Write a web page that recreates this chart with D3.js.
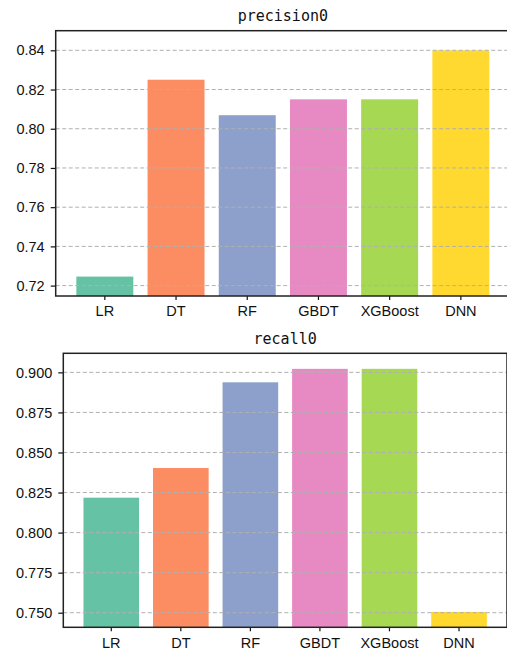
<!DOCTYPE html>
<html>
<head>
<meta charset="utf-8">
<script src="https://cdn.jsdelivr.net/npm/d3@7"></script>
<style>
  body { margin: 0; background: #fff; }
  svg { display: block; }
  .tick text { font-family: 'Liberation Sans', Arial, sans-serif; font-size: 14.5px; fill: #111; }
  .title { font-family: 'DejaVu Sans Mono', monospace; font-size: 15px; fill: #111; }
</style>
</head>
<body>
<div id="chart"></div>
<script>
var models = ['LR', 'DT', 'RF', 'GBDT', 'XGBoost', 'DNN']
var colors = ['#66c2a5', '#fc8d62', '#8da0cb', '#e78ac3', '#a6d854', '#ffd92f']
var precision0 = [0.7246, 0.825, 0.8069, 0.815, 0.815, 0.84]
var recall0 = [0.8218, 0.8403, 0.8938, 0.9022, 0.9022, 0.7505]
var precisionTicks = [0.72, 0.74, 0.76, 0.78, 0.80, 0.82, 0.84]
var recallTicks = [0.750, 0.775, 0.800, 0.825, 0.850, 0.875, 0.900]

var width = 507
var height = 657

var svg = d3.select('#chart')
  .append('svg')
  .attr('width', width)
  .attr('height', height)

var panels = [
  { title: 'precision0', values: precision0, ticks: precisionTicks, fmt: '.2f',
    left: 55.7, right: 510, top: 30.7, bottom: 296, domain: [0.7147, 0.85], titleY: 21 },
  { title: 'recall0', values: recall0, ticks: recallTicks, fmt: '.3f',
    left: 63.3, right: 507, top: 353.3, bottom: 627.3, domain: [0.7409, 0.9119], titleY: 344 }
]

panels.forEach(function (p) {
  var x = d3.scaleBand()
    .domain(models)
    .range([p.left, p.right])
    .paddingInner(0.2)
    .paddingOuter(0.29)

  var y = d3.scaleLinear()
    .domain(p.domain)
    .range([p.bottom, p.top])

  var g = svg.append('g')

  // bars
  g.selectAll('.bar')
    .data(p.values)
    .enter()
    .append('rect')
    .attr('x', (d, i) => x(models[i]))
    .attr('y', d => y(d))
    .attr('width', x.bandwidth())
    .attr('height', d => p.bottom - y(d))
    .attr('fill', (d, i) => colors[i])

  // grid over bars
  g.append('g')
    .selectAll('line')
    .data(p.ticks)
    .enter()
    .append('line')
    .attr('x1', p.left)
    .attr('x2', p.right)
    .attr('y1', d => y(d))
    .attr('y2', d => y(d))
    .attr('stroke', '#b0b0b0')
    .attr('stroke-width', 1)
    .attr('stroke-dasharray', '4,2.5')

  // axes
  var yAxis = g.append('g')
    .attr('transform', 'translate(' + p.left + ',0)')
    .call(d3.axisLeft(y).tickValues(p.ticks).tickFormat(d3.format(p.fmt)).tickSize(5).tickPadding(6))
  yAxis.select('.domain').remove()

  var xAxis = g.append('g')
    .attr('transform', 'translate(0,' + p.bottom + ')')
    .call(d3.axisBottom(x).tickSize(4).tickPadding(6))
  xAxis.select('.domain').remove()

  g.selectAll('.tick line').attr('stroke', '#111').attr('stroke-width', 1.2)

  // frame
  g.append('rect')
    .attr('x', p.left)
    .attr('y', p.top)
    .attr('width', p.right - p.left)
    .attr('height', p.bottom - p.top)
    .attr('fill', 'none')
    .attr('stroke', '#222')
    .attr('stroke-width', 1.5)

  // title
  g.append('text')
    .attr('class', 'title')
    .attr('x', (p.left + p.right) / 2)
    .attr('y', p.titleY)
    .attr('text-anchor', 'middle')
    .text(p.title)
})
</script>
</body>
</html>
